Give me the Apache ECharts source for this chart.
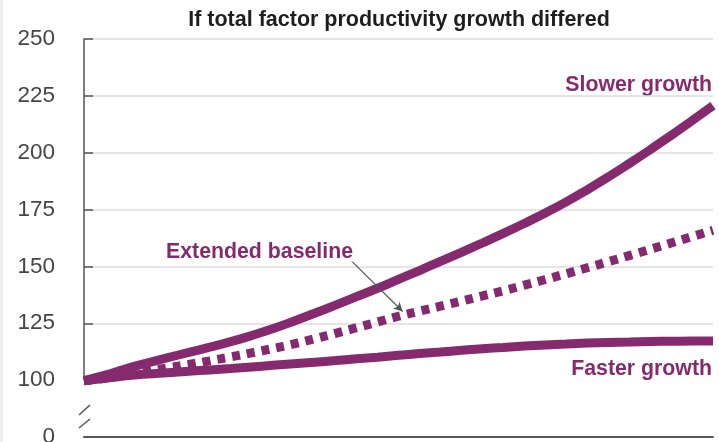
<!DOCTYPE html>
<html>
<head>
<meta charset="utf-8">
<script src="https://cdn.jsdelivr.net/npm/echarts@6/dist/echarts.min.js"></script>
<style>
  html, body { margin: 0; padding: 0; background: #ffffff; }
  #chart { width: 719px; height: 442px; }
</style>
</head>
<body>
<div id="chart"></div>
<script>
// Projection years (x axis, not labelled)
const years = [2023, 2024, 2025, 2026, 2027, 2028, 2029, 2030, 2031, 2032, 2033,
  2034, 2035, 2036, 2037, 2038, 2039, 2040, 2041, 2042, 2043,
  2044, 2045, 2046, 2047, 2048, 2049, 2050, 2051, 2052, 2053];

// Slower total factor productivity growth
const slowerGrowth = [99, 102.2, 105.0, 107.5, 109.9, 112.2, 114.5, 116.9, 119.6, 122.6, 125.9,
  129.4, 133.0, 136.7, 140.4, 144.3, 148.2, 152.2, 156.2, 160.3, 164.5,
  168.9, 173.5, 178.4, 183.7, 189.3, 195.2, 201.3, 207.6, 214.1, 220.7];

// Extended baseline
const extendedBaseline = [99, 100.8, 102.4, 103.9, 105.4, 106.9, 108.5, 110.2, 112.0, 113.9, 115.9,
  118.2, 120.6, 123.05, 125.55, 128.1, 130.3, 132.5, 134.75, 137.0, 139.3,
  141.75, 144.25, 146.8, 149.4, 152.05, 154.75, 157.5, 160.3, 163.1, 165.9];

// Faster total factor productivity growth
const fasterGrowth = [99, 100.8, 101.9, 102.7, 103.3, 103.9, 104.5, 105.1, 105.8, 106.5, 107.2,
  107.9, 108.6, 109.4, 110.1, 110.9, 111.7, 112.4, 113.1, 113.8, 114.4,
  115.0, 115.5, 115.9, 116.3, 116.6, 116.8, 117.0, 117.1, 117.2, 117.2];

// Y axis ticks shown (axis is broken between 0 and 100)
const yTicks = [0, 100, 125, 150, 175, 200, 225, 250];

const PURPLE = '#862a70';
const LABEL_FONT = '"Liberation Sans Narrow", "Liberation Sans", sans-serif';

const pairs = arr => years.map((y, i) => [y, arr[i]]);

const chart = echarts.init(document.getElementById('chart'), null, { renderer: 'canvas' });

const lineSeries = (name, data, dashed) => ({
  name,
  type: 'line',
  data: pairs(data),
  smooth: 0.5,
  symbol: 'none',
  silent: true,
  lineStyle: {
    color: PURPLE,
    width: 9,
    type: dashed ? [8, 7] : 'solid',
    cap: 'butt'
  }
});

const baseline = lineSeries('Extended baseline', extendedBaseline, true);
// Pointer from the "Extended baseline" label to its line
baseline.markLine = {
  silent: true,
  symbol: ['none', 'arrow'],
  symbolSize: [7, 9],
  label: { show: false },
  lineStyle: { color: '#555555', width: 1.2, type: 'solid' },
  data: [[{ coord: [2035.8, 152] }, { coord: [2038.2, 130.2] }]]
};

chart.setOption({
  animation: false,
  backgroundColor: '#ffffff',
  grid: { left: 84, right: 6, top: 39, bottom: 5, containLabel: false, outerBoundsMode: 'none' },
  xAxis: {
    type: 'value',
    min: years[0],
    max: years[years.length - 1],
    axisLine: { show: true, lineStyle: { color: '#555555', width: 2 } },
    axisTick: { show: false },
    axisLabel: { show: false },
    splitLine: { show: false }
  },
  yAxis: {
    type: 'value',
    min: 0,
    max: 250,
    interval: 25,
    breaks: [{ start: 0, end: 100, gap: 25 }],
    breakArea: { show: false },
    axisLine: { show: true, lineStyle: { color: '#555555', width: 1.5 } },
    axisTick: { show: true, inside: true, length: 9, lineStyle: { color: '#555555', width: 1.5 } },
    axisLabel: {
      margin: 29,
      color: '#454545',
      fontSize: 22.5,
      fontFamily: '"Liberation Sans", Arial, sans-serif',
      formatter: v => (yTicks.indexOf(v) >= 0 ? String(v) : '')
    },
    splitLine: {
      show: true,
      lineStyle: { color: '#dcdcdc', width: 1.5 }
    }
  },
  graphic: [
    { type: 'rect', left: 0, top: 0, shape: { width: 3, height: 442 }, style: { fill: '#eeeeee' }, silent: true },
    {
      type: 'text', x: 399, y: 20.5, silent: true,
      style: {
        text: 'If total factor productivity growth differed',
        fill: '#1e1e1e', font: 'bold 21.5px ' + LABEL_FONT,
        textAlign: 'center', textVerticalAlign: 'middle'
      }
    },
    {
      type: 'text', x: 712, y: 85, silent: true,
      style: { text: 'Slower growth', fill: PURPLE, font: 'bold 21.3px ' + LABEL_FONT, textAlign: 'right', textVerticalAlign: 'middle' }
    },
    {
      type: 'text', x: 166, y: 252.5, silent: true,
      style: { text: 'Extended baseline', fill: PURPLE, font: 'bold 21.3px ' + LABEL_FONT, textAlign: 'left', textVerticalAlign: 'middle' }
    },
    {
      type: 'text', x: 712, y: 369, silent: true,
      style: { text: 'Faster growth', fill: PURPLE, font: 'bold 21.3px ' + LABEL_FONT, textAlign: 'right', textVerticalAlign: 'middle' }
    },
    // Axis break marks
    { type: 'rect', shape: { x: 82, y: 410, width: 4, height: 11 }, style: { fill: '#ffffff' }, silent: true, z: 100 },
    { type: 'line', shape: { x1: 79, y1: 415, x2: 90, y2: 405 }, style: { stroke: '#555555', lineWidth: 1.5 }, silent: true, z: 101 },
    { type: 'line', shape: { x1: 79, y1: 428, x2: 90, y2: 419 }, style: { stroke: '#555555', lineWidth: 1.5 }, silent: true, z: 101 }
  ],
  series: [
    lineSeries('Slower growth', slowerGrowth, false),
    lineSeries('Faster growth', fasterGrowth, false),
    baseline
  ]
});
</script>
</body>
</html>
